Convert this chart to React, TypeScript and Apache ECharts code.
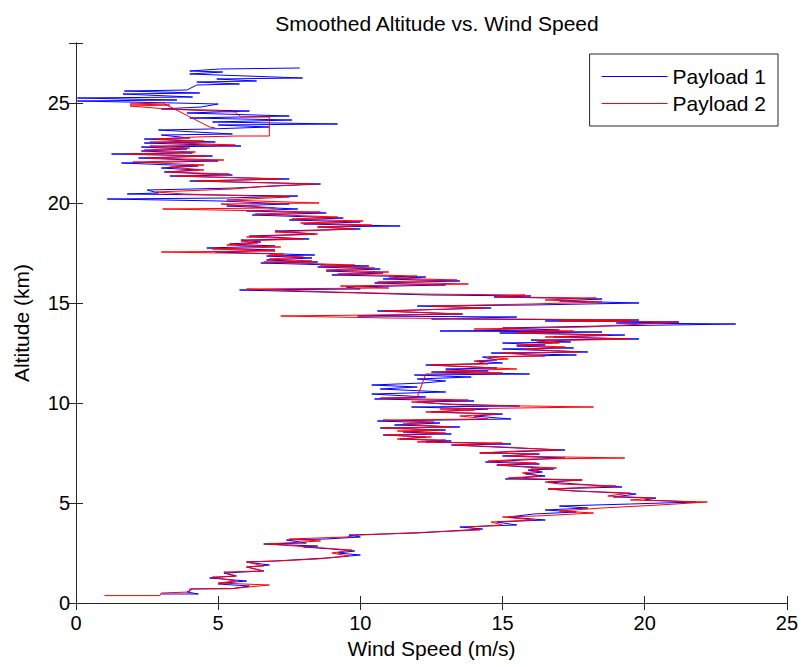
import React, { useEffect, useRef } from "react";
import * as echarts from "echarts";

const xTicks = [0, 5, 10, 15, 20, 25];
const yTicks = [0, 5, 10, 15, 20, 25];

// Payload 1 (blue): [wind speed m/s, altitude km]
const payload1: [number, number][] = [
  [3.0,0.45],[4.3,0.45],[3.9,0.55],[4.1,0.7],[5.5,0.72],[6.1,0.85],[5.0,0.95],[5.2,1.0],[6.0,1.1],[4.7,1.25],[5.6,1.35],[5.2,1.5],[6.6,1.6],[6.0,1.8],[6.8,1.9],[6.0,2.05],[7.0,2.1],[8.8,2.25],[10.0,2.4],[9.2,2.5],[9.8,2.6],[9.0,2.7],[8.0,2.8],[8.5,2.85],[6.6,2.95],[8.1,3.0],[7.4,3.15],[8.8,3.2],[10.0,3.3],[9.6,3.4],[12.0,3.5],[14.3,3.7],[13.5,3.8],[15.5,3.9],[14.8,4.05],[16.5,4.15],[15.2,4.3],[16.1,4.45],[17.6,4.55],[16.5,4.65],[18.0,4.75],[17.0,4.85],[19.5,4.95],[21.8,5.05],[20.0,5.15],[20.4,5.25],[18.9,5.3],[19.7,5.45],[18.4,5.55],[17.6,5.6],[16.6,5.7],[19.2,5.8],[17.6,5.95],[16.6,6.05],[17.8,6.15],[15.1,6.2],[16.5,6.35],[15.8,6.45],[16.4,6.55],[15.9,6.65],[16.8,6.7],[14.8,6.9],[16.3,6.95],[14.4,7.05],[15.7,7.15],[17.2,7.25],[15.0,7.35],[16.3,7.45],[14.2,7.5],[15.2,7.55],[17.2,7.65],[15.5,7.75],[13.2,7.9],[15.3,7.95],[12.3,8.05],[13.2,8.1],[11.4,8.2],[12.3,8.3],[10.8,8.4],[13.2,8.45],[11.5,8.55],[13.0,8.65],[10.7,8.75],[13.5,8.8],[11.2,8.9],[12.8,9.0],[10.6,9.1],[15.3,9.2],[14.0,9.35],[15.0,9.45],[12.5,9.55],[14.5,9.7],[11.8,9.8],[15.6,9.85],[13.0,9.95],[12.0,10.05],[14.0,10.1],[10.5,10.2],[12.3,10.3],[10.4,10.45],[13.0,10.55],[10.7,10.7],[12.0,10.8],[10.4,10.9],[12.2,11.0],[13.0,11.1],[12.0,11.2],[13.9,11.3],[11.9,11.4],[15.95,11.45],[12.5,11.55],[14.5,11.6],[13.0,11.7],[14.8,11.75],[12.3,11.9],[15.0,12.0],[14.1,12.1],[14.8,12.15],[14.3,12.3],[17.6,12.4],[14.6,12.5],[18.0,12.55],[15.0,12.7],[17.5,12.75],[15.5,12.85],[16.5,12.9],[15.0,13.0],[17.4,13.05],[16.0,13.15],[19.8,13.2],[16.8,13.3],[19.3,13.4],[14.9,13.5],[18.5,13.55],[12.8,13.6],[17.0,13.65],[15.0,13.75],[18.5,13.85],[23.2,13.95],[19.0,14.0],[21.2,14.05],[16.5,14.1],[19.8,14.15],[12.5,14.2],[15.5,14.3],[9.9,14.35],[13.6,14.45],[10.6,14.6],[14.6,14.75],[12.0,14.85],[16.0,14.9],[19.8,15.0],[17.0,15.1],[18.5,15.2],[14.7,15.3],[16.0,15.35],[12.5,15.4],[10.0,15.5],[5.75,15.65],[10.0,15.7],[9.5,15.8],[13.0,15.9],[10.5,16.0],[13.5,16.1],[10.8,16.2],[12.3,16.3],[9.0,16.4],[10.8,16.5],[8.8,16.6],[10.7,16.7],[8.5,16.8],[10.3,16.85],[6.5,17.0],[8.5,17.05],[6.7,17.15],[8.3,17.25],[6.7,17.35],[8.4,17.4],[4.9,17.55],[7.0,17.65],[4.6,17.75],[7.0,17.85],[5.4,17.95],[6.5,18.05],[5.8,18.15],[8.2,18.2],[6.1,18.35],[8.4,18.45],[7.0,18.6],[10.0,18.7],[8.5,18.8],[11.4,18.85],[8.0,18.95],[10.0,19.05],[7.5,19.15],[9.4,19.25],[6.2,19.4],[8.8,19.5],[6.0,19.6],[7.8,19.7],[5.3,19.85],[7.5,19.95],[5.1,20.1],[1.1,20.2],[5.3,20.25],[7.8,20.35],[1.8,20.45],[2.9,20.5],[2.5,20.65],[5.6,20.75],[7.0,20.85],[8.6,20.95],[4.0,21.1],[7.5,21.2],[3.3,21.35],[5.5,21.4],[3.1,21.55],[4.3,21.65],[3.0,21.75],[4.3,21.85],[1.6,22.0],[5.0,22.1],[2.2,22.25],[4.8,22.35],[1.25,22.45],[4.1,22.5],[2.3,22.6],[3.9,22.7],[2.3,22.8],[5.8,22.85],[2.4,23.0],[4.9,23.05],[2.4,23.2],[4.0,23.25],[3.0,23.4],[5.5,23.45],[2.9,23.65],[4.7,23.7],[6.8,23.8],[5.0,23.9],[9.2,23.95],[4.8,24.05],[7.6,24.15],[4.0,24.25],[7.5,24.35],[3.9,24.5],[6.1,24.6],[3.0,24.7],[4.4,24.8],[5.0,24.95],[3.5,25.0],[0.05,25.1],[3.55,25.15],[0.05,25.25],[4.1,25.3],[1.65,25.45],[4.35,25.5],[1.7,25.6],[3.9,25.65],[4.25,25.9],[5.75,25.95],[4.25,26.05],[6.35,26.1],[4.95,26.2],[7.97,26.25],[4.0,26.45],[5.16,26.55],[4.0,26.6],[5.05,26.7],[7.87,26.75]
];

// Payload 2 (red): [wind speed m/s, altitude km]
const payload2: [number, number][] = [
  [1.0,0.37],[2.95,0.37],[3.0,0.5],[4.0,0.55],[4.0,0.71],[5.5,0.72],[6.8,0.9],[5.0,1.0],[5.6,1.1],[4.8,1.3],[5.65,1.35],[5.2,1.55],[6.6,1.6],[6.0,1.8],[6.6,1.85],[6.0,2.05],[7.05,2.1],[8.5,2.2],[9.6,2.35],[9.0,2.5],[9.7,2.65],[8.2,2.8],[6.7,2.95],[8.6,3.1],[7.5,3.2],[9.5,3.3],[10.0,3.4],[12.5,3.55],[14.2,3.65],[13.8,3.8],[15.0,3.9],[14.6,4.05],[16.1,4.15],[15.0,4.3],[16.2,4.35],[18.2,4.5],[17.0,4.6],[18.5,4.75],[20.5,4.9],[22.2,5.05],[19.5,5.15],[20.3,5.25],[18.7,5.35],[19.5,5.5],[17.5,5.6],[16.6,5.7],[19.0,5.85],[17.0,5.95],[16.5,6.05],[17.8,6.15],[15.2,6.25],[16.3,6.35],[15.7,6.5],[16.3,6.6],[16.0,6.7],[16.9,6.75],[14.8,6.9],[16.2,7.0],[14.5,7.1],[15.9,7.2],[19.3,7.25],[15.2,7.35],[16.2,7.45],[14.2,7.5],[15.5,7.6],[17.0,7.65],[15.0,7.8],[13.3,7.9],[15.0,8.0],[12.0,8.05],[13.0,8.15],[11.3,8.2],[12.5,8.3],[10.9,8.4],[13.0,8.5],[11.3,8.6],[12.8,8.65],[10.8,8.75],[13.2,8.8],[11.5,8.95],[12.6,9.05],[10.8,9.15],[14.5,9.2],[13.5,9.35],[14.8,9.45],[12.3,9.55],[14.0,9.65],[12.8,9.7],[18.2,9.8],[13.5,9.9],[11.8,10.05],[13.8,10.15],[10.7,10.25],[12.0,10.3],[12.3,11.45],[15.0,11.5],[13.0,11.6],[15.5,11.7],[12.5,11.9],[14.5,11.95],[14.0,12.1],[15.2,12.2],[14.5,12.3],[16.5,12.35],[15.0,12.5],[17.7,12.55],[15.8,12.7],[17.2,12.8],[15.5,12.9],[17.0,13.0],[16.2,13.1],[19.5,13.2],[16.5,13.3],[18.7,13.4],[15.5,13.5],[17.5,13.6],[14.0,13.7],[18.0,13.8],[21.2,14.05],[17.0,14.1],[19.5,14.15],[11.0,14.25],[7.2,14.35],[13.5,14.45],[10.8,14.6],[14.4,14.75],[12.5,14.85],[16.0,14.95],[18.5,15.05],[16.5,15.15],[18.3,15.25],[14.8,15.3],[15.8,15.4],[12.0,15.45],[9.0,15.55],[6.0,15.7],[11.0,15.75],[9.3,15.85],[13.8,15.95],[10.6,16.05],[13.4,16.15],[11.0,16.25],[12.0,16.35],[9.2,16.45],[11.0,16.55],[8.8,16.65],[10.5,16.75],[8.6,16.85],[9.8,16.9],[6.6,17.05],[8.3,17.1],[6.8,17.2],[8.0,17.3],[6.8,17.4],[7.3,17.45],[3.0,17.55],[7.0,17.6],[4.8,17.7],[7.2,17.8],[5.3,17.9],[6.4,18.0],[5.8,18.1],[8.0,18.2],[6.0,18.3],[8.5,18.45],[7.0,18.55],[9.8,18.7],[8.5,18.8],[10.4,18.9],[7.9,19.0],[10.1,19.1],[7.6,19.2],[9.2,19.3],[6.3,19.45],[8.6,19.55],[3.05,19.7],[7.0,19.75],[5.1,19.95],[8.55,20.0],[5.3,20.15],[7.5,20.3],[3.8,20.45],[2.8,20.55],[5.5,20.7],[6.8,20.85],[8.4,20.95],[4.2,21.1],[7.2,21.2],[3.5,21.35],[5.4,21.45],[3.2,21.55],[4.5,21.65],[3.3,21.8],[4.5,21.9],[2.0,22.05],[5.2,22.15],[2.5,22.25],[4.6,22.35],[1.8,22.45],[4.2,22.55],[2.4,22.65],[4.0,22.75],[2.6,22.85],[5.6,22.9],[2.6,23.05],[4.5,23.1],[2.8,23.2],[4.2,23.3],[5.65,23.35],[6.8,23.35],[6.8,24.3],[5.8,24.3],[5.6,24.55],[3.2,24.7],[1.9,24.85],[3.3,24.9],[1.9,24.95],[3.05,25.0],[4.7,23.8],[4.9,23.75]
];

const FONT = "'Liberation Sans', Arial, Helvetica, sans-serif";
const AXIS_COLOR = "#262626";

export default function App() {
  const ref = useRef<HTMLDivElement>(null);
  useEffect(() => {
    if (!ref.current) return;
    const chart = echarts.init(ref.current, undefined, { renderer: "svg" });
    const tickFmt = (list: number[]) => (v: number) => (list.includes(v) ? String(v) : "");
    const baseAxis = {
      type: "value" as const,
      axisLine: { show: true, lineStyle: { color: AXIS_COLOR, width: 1 } },
      axisTick: { show: true, inside: true, length: 7, lineStyle: { color: AXIS_COLOR } },
      splitLine: { show: false },
    };
    chart.setOption({
      animation: false,
      backgroundColor: "#ffffff",
      title: {
        text: "Smoothed Altitude vs. Wind Speed",
        left: 432,
        textAlign: "center",
        top: 8,
        textStyle: { fontFamily: FONT, fontSize: 21, fontWeight: "normal", color: "#000" },
      },
      grid: { left: 76, right: 13, top: 43, bottom: 64, containLabel: false },
      legend: {
        orient: "vertical",
        right: 23,
        top: 54,
        padding: [12, 12, 12, 12],
        itemGap: 6,
        itemWidth: 66,
        itemHeight: 1,
        icon: "rect",
        borderColor: AXIS_COLOR,
        borderWidth: 1,
        backgroundColor: "#fff",
        textStyle: { fontFamily: FONT, fontSize: 21, color: "#000" },
        data: ["Payload 1", "Payload 2"],
      },
      xAxis: [
        {
          ...baseAxis,
          position: "bottom",
          min: 0,
          max: 25,
          interval: 5,
          name: "Wind Speed (m/s)",
          nameLocation: "middle",
          nameGap: 34,
          nameTextStyle: { fontFamily: FONT, fontSize: 21, color: "#000" },
          axisLabel: { fontFamily: FONT, fontSize: 20, color: "#000", margin: 10, formatter: tickFmt(xTicks) },
        },
        {
          ...baseAxis,
          position: "top",
          min: 0,
          max: 25,
          interval: 5,
          axisLabel: { show: false },
        },
      ],
      yAxis: [
        {
          ...baseAxis,
          position: "left",
          min: 0,
          max: 28,
          interval: 5,
          name: "Altitude (km)",
          nameLocation: "middle",
          nameGap: 44,
          nameRotate: 90,
          nameTextStyle: { fontFamily: FONT, fontSize: 21, color: "#000" },
          axisLabel: { fontFamily: FONT, fontSize: 20, color: "#000", margin: 6, formatter: tickFmt(yTicks) },
        },
        {
          ...baseAxis,
          position: "right",
          min: 0,
          max: 28,
          interval: 5,
          axisLabel: { show: false },
        },
      ],
      series: [
        {
          name: "Payload 1",
          type: "line",
          xAxisIndex: 0,
          yAxisIndex: 0,
          symbol: "none",
          data: payload1,
          lineStyle: { color: "#0000ff", width: 1 },
          itemStyle: { color: "#0000ff" },
        },
        {
          name: "Payload 2",
          type: "line",
          xAxisIndex: 0,
          yAxisIndex: 0,
          symbol: "none",
          data: payload2,
          lineStyle: { color: "#ff0000", width: 1 },
          itemStyle: { color: "#ff0000" },
        },
      ],
    });
    return () => chart.dispose();
  }, []);
  return <div ref={ref} style={{ width: 801, height: 667, position: "absolute", left: 0, top: 0 }} />;
}
